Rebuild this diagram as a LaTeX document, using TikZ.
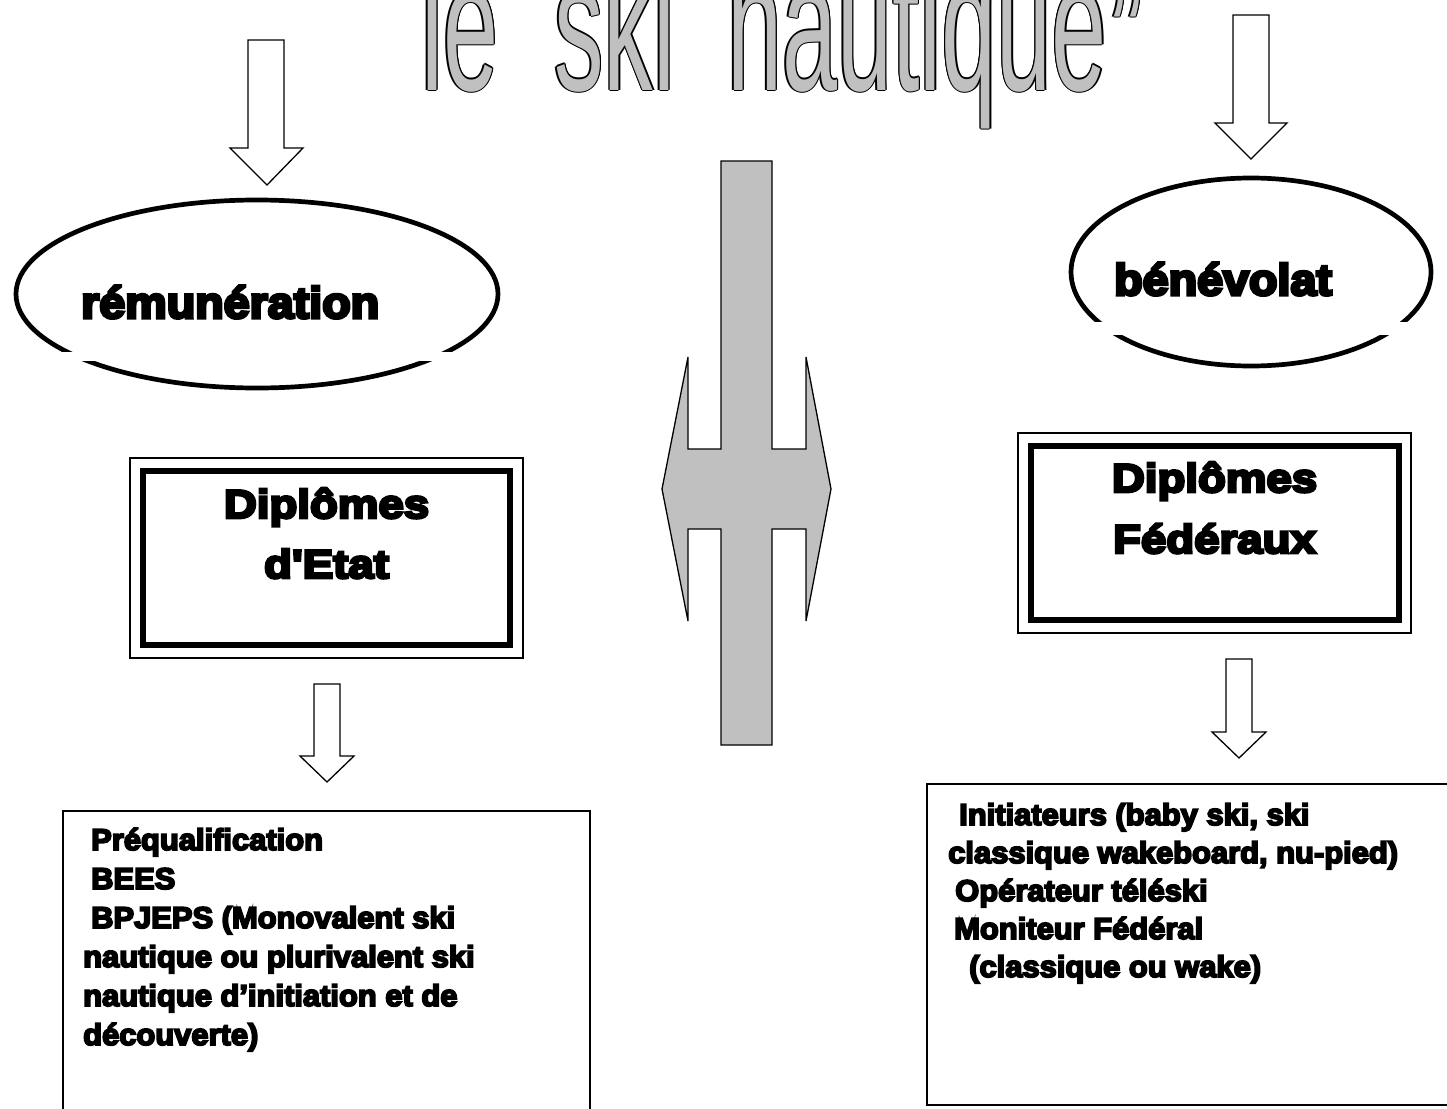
\documentclass[tikz,border=0pt]{standalone}
\usepackage{fontspec}
\setmainfont{Liberation Sans}
\newfontfamily\fTitle{Liberation Sans}
\newfontfamily\fEll{Liberation Sans Bold}[FakeBold=7,FakeStretch=1.06]
\newfontfamily\fBox{Liberation Sans Bold}[FakeBold=7,FakeStretch=1.14]
\newfontfamily\fList{Liberation Sans Bold}[FakeBold=6,FakeStretch=1.03]
\definecolor{wagray}{HTML}{C0C0C0}
\newcommand{\tword}[1]{\fTitle\fontsize{100}{100}\selectfont\scalebox{0.99}[1.86]{#1}}
\usetikzlibrary{shapes.geometric}
\tikzset{
  hollow/.style={draw=black, line width=1.3pt, fill=white, line join=miter},
  grayshape/.style={draw=black, line width=1.3pt, fill=wagray, line join=miter},
  ovalline/.style={ellipse, draw=black, line width=4.7pt, inner sep=0pt},
  thinframe/.style={draw=black, line width=1.5pt},
  thickframe/.style={draw=black, line width=6pt},
  listbox/.style={draw=black, line width=1.6pt},
  lbl/.style={inner sep=0pt, anchor=base west},
  ctr/.style={inner sep=0pt, anchor=base},
  ellt/.style={lbl, font=\fEll\fontsize{44}{50}\selectfont},
  boxt/.style={ctr, font=\fBox\fontsize{40}{46}\selectfont},
  listt/.style={lbl, font=\fList\fontsize{30}{36}\selectfont},
}
\begin{document}
\begin{tikzpicture}[x=1pt,y=-1pt]
\useasboundingbox[fill=white] (0,0) rectangle (1447,1108);

% title with outline
\foreach \dx/\dy [count=\k] in {1.3/0,-1.3/0,0/1.3,0/-1.3,0.95/0.95,-0.95/0.95,0.95/-0.95,-0.95/-0.95}{
  \node[lbl, text=black] (tle\k) at (421+\dx,90+\dy) {\tword{le}};
  \node[lbl, text=black] (tski\k) at (554+\dx,90+\dy) {\tword{ski}};
  \node[lbl, text=black] (tnau\k) at (727+\dx,90+\dy) {\tword{nautique}};
  \node[lbl, text=black] (tquo\k) at (1110+\dx,103+\dy) {\tword{”}};
}
\node[lbl, text=wagray] (tle) at (421,90) {\tword{le}};
\node[lbl, text=wagray] (tski) at (554,90) {\tword{ski}};
\node[lbl, text=wagray] (tnau) at (727,90) {\tword{nautique}};
\node[lbl, text=wagray] (tquo) at (1110,103) {\tword{”}};

% top arrows
\draw[hollow] (248,40) -- (284,40) -- (284,148) -- (303,148) -- (267,185) -- (230,148) -- (248,148) -- cycle;
\draw[hollow] (1233,15) -- (1269,15) -- (1269,123) -- (1287,123) -- (1251,159) -- (1215,123) -- (1233,123) -- cycle;

% ellipses
\node[ovalline, minimum width=482pt, minimum height=188pt] (remu) at (257,294) {};
\fill[white] (62,352) rectangle (471,361);
\node[ellt] (remut) at (81,318) {rémunération};

\node[ovalline, minimum width=360pt, minimum height=188pt] (bene) at (1251,272) {};
\fill[white] (1094,322) rectangle (1407,335);
\node[ellt] (benet) at (1114,295) {bénévolat};

% central double arrow
\draw[grayshape] (721,161) -- (772,161) -- (772,449) -- (806,449) -- (806,357) -- (831,489) -- (806,621) -- (806,529) -- (772,529) -- (772,745) -- (721,745) -- (721,529) -- (688,529) -- (688,621) -- (662,489) -- (688,357) -- (688,449) -- (721,449) -- cycle;

% left framed box
\draw[thinframe] (130,458) rectangle (523,658);
\draw[thickframe] (143,471) rectangle (510,645);
\node[boxt] (de1) at (326.5,518) {Diplômes};
\node[boxt] (de2) at (326.5,578) {d'Etat};

% right framed box
\draw[thinframe] (1018,433) rectangle (1411,633);
\draw[thickframe] (1031,446) rectangle (1399,620);
\node[boxt] (df1) at (1214.5,492) {Diplômes};
\node[boxt] (df2) at (1214.5,553) {Fédéraux};

% small arrows
\draw[hollow] (314,684) -- (340,684) -- (340,756) -- (354,756) -- (327,782) -- (300,756) -- (314,756) -- cycle;
\draw[hollow] (1226,659) -- (1252,659) -- (1252,732) -- (1266,732) -- (1239,758) -- (1212,732) -- (1226,732) -- cycle;

% bottom left list
\draw[listbox] (63,811) rectangle (590,1130);
\node[listt] (la1) at (91,850) {Préqualification};
\node[listt] (la2) at (91,889) {BEES};
\node[listt] (la3) at (91,928) {BPJEPS (Monovalent ski};
\node[listt] (la4) at (83,967) {nautique ou plurivalent ski};
\node[listt] (la5) at (83,1006) {nautique d’initiation et de};
\node[listt] (la6) at (83,1045) {découverte)};

% bottom right list
\draw[listbox] (927,784) rectangle (1470,1105);
\node[listt] (lb1) at (959,825) {Initiateurs (baby ski, ski};
\node[listt] (lb2) at (948,863) {classique wakeboard, nu-pied)};
\node[listt] (lb3) at (955,901) {Opérateur téléski};
\node[listt] (lb4) at (954,939) {Moniteur Fédéral};
\node[listt] (lb5) at (969,977) {(classique ou wake)};
\end{tikzpicture}
\end{document}
